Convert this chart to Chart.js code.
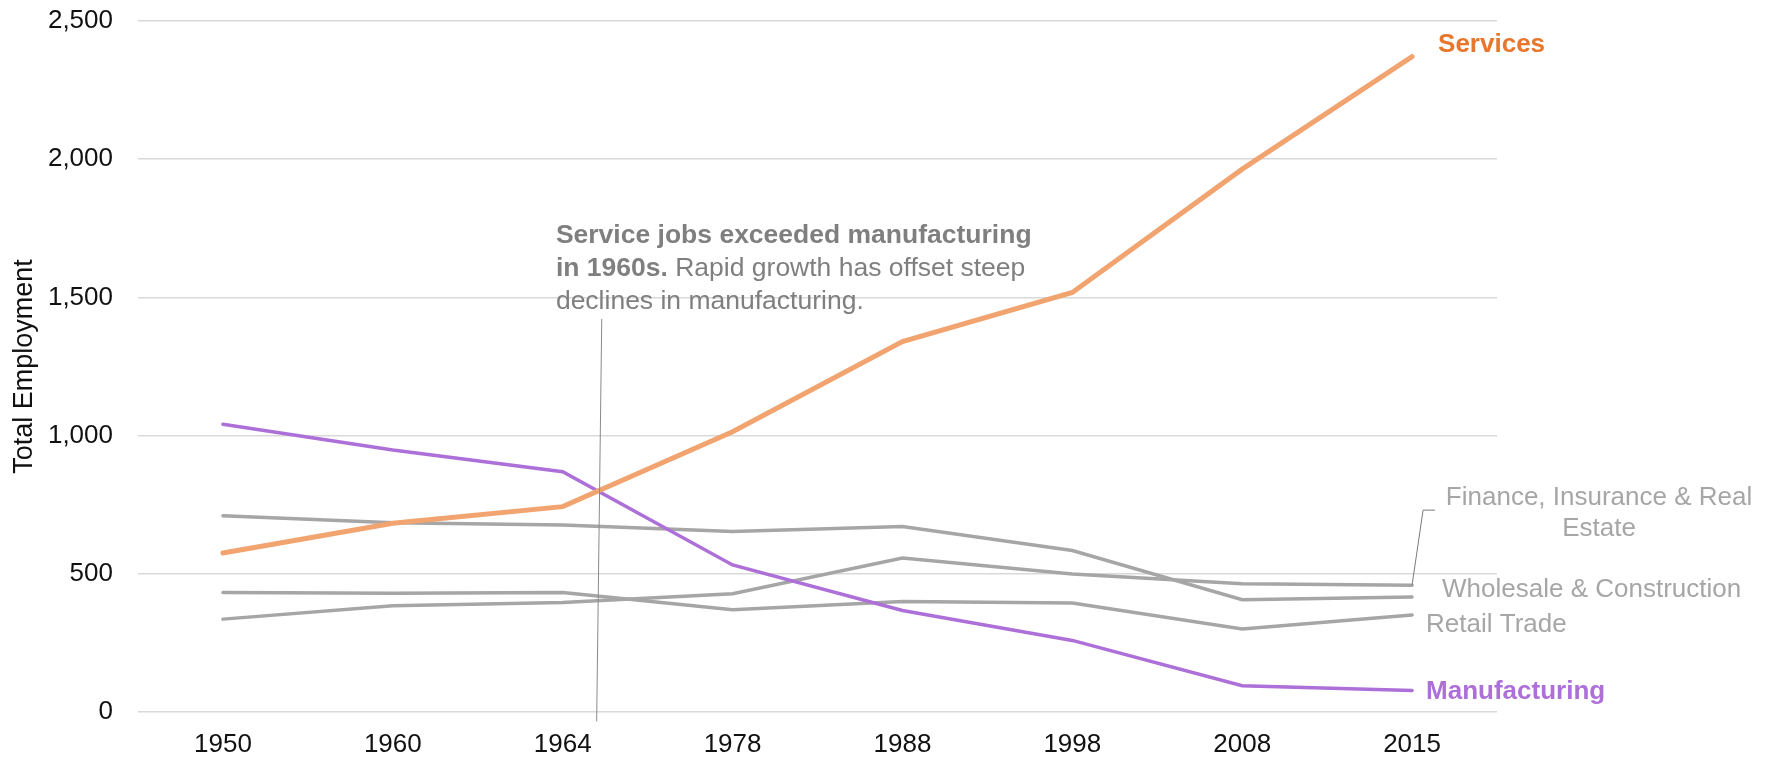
<!DOCTYPE html>
<html>
<head>
<meta charset="utf-8">
<script src="https://cdn.jsdelivr.net/npm/chart.js@4"></script>
<style>
  html, body { margin: 0; padding: 0; background: #fff; }
  #wrap { width: 1771px; height: 761px; }
</style>
</head>
<body>
<div id="wrap"><canvas id="jobsChart" width="1771" height="761"></canvas></div>
<script>
// Employment by sector, 1950-2015
const years = ['1950', '1960', '1964', '1978', '1988', '1998', '2008', '2015'];
const services = [575, 683, 743, 1014, 1340, 1518, 1964, 2371];
const manufacturing = [1041, 948, 869, 532, 367, 259, 95, 78];
const financeInsurance = [336, 384, 396, 428, 557, 499, 464, 459];
const wholesaleConstruction = [710, 685, 677, 653, 671, 584, 406, 416];
const retailTrade = [432, 430, 432, 370, 400, 394, 300, 351];
const yTicks = [0, 500, 1000, 1500, 2000, 2500];

const FONT = '"Liberation Sans", Arial, sans-serif';
const GRAY = '#a6a6a6';
const ORANGE_LINE = '#f1a46f';
const ORANGE_TEXT = '#e8762b';
const PURPLE = '#ad6fd8';
const NOTE = '#7f7f7f';

// callout: where the note sits (category index / value) and its leader line
const noteAt = { x: 1.96, y: 1697 };
const leaderTop = { x: 2.23, y: 1422 };
const leaderBottom = { x: 2.20, y: -34 };

// series name labels, drawn next to the last point of each line
const endLabels = [
  { data: services, lines: ['Services'], bold: true, color: ORANGE_TEXT, dx: 26, dy: -12, align: 'left' },
  { data: manufacturing, lines: ['Manufacturing'], bold: true, color: PURPLE, dx: 14, dy: 1, align: 'left' },
  { data: retailTrade, lines: ['Retail Trade'], bold: false, color: GRAY, dx: 14, dy: 10, align: 'left' },
  { data: wholesaleConstruction, lines: ['Wholesale & Construction'], bold: false, color: GRAY, dx: 30, dy: -7, align: 'left' },
  { data: financeInsurance, lines: ['Finance, Insurance & Real', 'Estate'], bold: false, color: GRAY, dx: 187, dy: -87, align: 'center', leader: true }
];

const annotations = {
  id: 'annotations',
  afterDatasetsDraw(chart) {
    const { ctx, scales: { x, y } } = chart;
    ctx.save();

    // leader line for the callout
    ctx.strokeStyle = '#8a8a8a';
    ctx.lineWidth = 1;
    ctx.beginPath();
    ctx.moveTo(x.getPixelForValue(leaderTop.x), y.getPixelForValue(leaderTop.y));
    ctx.lineTo(x.getPixelForValue(leaderBottom.x), y.getPixelForValue(leaderBottom.y));
    ctx.stroke();

    // callout text, bold lead-in then regular
    const nx = x.getPixelForValue(noteAt.x);
    let ny = y.getPixelForValue(noteAt.y);
    const boldFont = 'bold 26.5px ' + FONT;
    const normFont = '26.5px ' + FONT;
    ctx.fillStyle = NOTE;
    ctx.textBaseline = 'alphabetic';
    ctx.textAlign = 'left';
    const noteLines = [
      [['Service jobs exceeded manufacturing', true]],
      [['in 1960s.', true], [' Rapid growth has offset steep', false]],
      [['declines in manufacturing.', false]]
    ];
    noteLines.forEach(parts => {
      let cx = nx;
      parts.forEach(([txt, b]) => {
        ctx.font = b ? boldFont : normFont;
        ctx.fillText(txt, cx, ny);
        cx += ctx.measureText(txt).width;
      });
      ny += 33;
    });

    // series labels at the right end
    const last = years.length - 1;
    endLabels.forEach(l => {
      const px = x.getPixelForValue(last);
      const py = y.getPixelForValue(l.data[last]);
      ctx.font = (l.bold ? 'bold ' : '') + '26px ' + FONT;
      ctx.fillStyle = l.color;
      ctx.textAlign = l.align;
      ctx.textBaseline = 'middle';
      l.lines.forEach((t, i) => ctx.fillText(t, px + l.dx, py + l.dy + i * 31));
      if (l.leader) {
        ctx.strokeStyle = '#7a7a7a';
        ctx.lineWidth = 1;
        ctx.beginPath();
        ctx.moveTo(px, py);
        ctx.lineTo(px + 11, py - 75);
        ctx.lineTo(px + 23, py - 75);
        ctx.stroke();
      }
    });
    ctx.restore();
  }
};

function line(label, data, color, width, order) {
  return {
    label: label,
    data: data,
    borderColor: color,
    borderWidth: width,
    borderCapStyle: 'round',
    borderJoinStyle: 'miter',
    pointRadius: 0,
    tension: 0,
    fill: false,
    order: order
  };
}

const chart = new Chart(document.getElementById('jobsChart').getContext('2d'), {
  type: 'line',
  data: {
    labels: years,
    datasets: [
      line('Services', services, ORANGE_LINE, 5, 0),
      line('Manufacturing', manufacturing, PURPLE, 3.5, 1),
      line('Finance, Insurance & Real Estate', financeInsurance, GRAY, 3.5, 2),
      line('Wholesale & Construction', wholesaleConstruction, GRAY, 3.5, 2),
      line('Retail Trade', retailTrade, GRAY, 3.5, 2)
    ]
  },
  options: {
    responsive: false,
    animation: false,
    devicePixelRatio: 1,
    layout: { padding: { left: 0, right: 274, top: 21, bottom: 0 } },
    plugins: {
      legend: { display: false },
      tooltip: { enabled: false }
    },
    scales: {
      x: {
        offset: true,
        grid: { display: false, drawTicks: false },
        border: { display: false },
        ticks: { color: '#111', padding: 17, maxRotation: 0, font: { family: FONT, size: 26 } },
        afterFit: s => { s.height = 49; s.paddingLeft = 0; s.paddingRight = 0; }
      },
      y: {
        min: 0,
        max: 2500,
        afterBuildTicks: s => { s.ticks = yTicks.map(v => ({ value: v })); },
        grid: { color: '#d9d9d9', lineWidth: 1.5, drawTicks: false },
        border: { display: false },
        ticks: {
          color: '#111',
          padding: 25,
          font: { family: FONT, size: 26 },
          callback: v => v.toLocaleString('en-US')
        },
        title: {
          display: true,
          text: 'Total Employment',
          color: '#111',
          font: { family: FONT, size: 27 },
          padding: { top: 8, bottom: 0 }
        },
        afterFit: s => { s.width = 138; s.paddingTop = 0; s.paddingBottom = 0; }
      }
    }
  },
  plugins: [annotations]
});
</script>
</body>
</html>
